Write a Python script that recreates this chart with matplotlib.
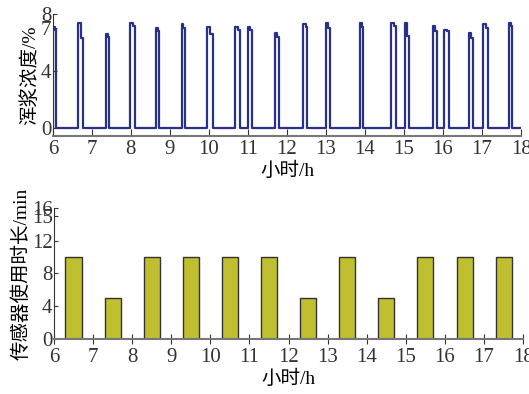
import matplotlib.pyplot as plt
import numpy as np

plt.rcParams["font.family"] = ["Liberation Serif", "Noto Sans CJK SC"]

# concentration pulses (hours, %)
pulse_start = [6.00, 6.64, 7.35, 7.97, 8.65, 9.30, 9.95, 10.67, 11.00, 11.70,
               12.42, 13.00, 13.86, 14.66, 15.02, 15.74, 16.03, 16.67, 17.03, 17.68]
pulse_end = [6.08, 6.77, 7.45, 8.10, 8.73, 9.38, 10.10, 10.80, 11.10, 11.80,
             12.52, 13.10, 13.96, 14.79, 15.12, 15.85, 16.15, 16.77, 17.16, 17.78]
pulse_peak = [7.1, 7.4, 6.6, 7.4, 7.0, 7.3, 7.1, 7.1, 7.1, 6.7,
              7.3, 7.4, 7.4, 7.4, 7.4, 7.2, 6.9, 6.7, 7.3, 7.4]
pulse_tail = [6.9, 6.3, 6.4, 7.2, 6.8, 7.0, 6.6, 6.9, 6.9, 6.4,
              7.1, 7.0, 7.1, 7.2, 6.5, 6.8, 6.8, 6.3, 7.0, 7.2]

# sensor usage per hour (min)
bar_hours = [6.5, 7.5, 8.5, 9.5, 10.5, 11.5, 12.5, 13.5, 14.5, 15.5, 16.5, 17.5]
bar_minutes = [10, 5, 10, 10, 10, 10, 5, 10, 5, 10, 10, 10]

hour_ticks = list(range(6, 19))
conc_ticks = [0, 4, 7, 8]
usage_ticks = [0, 4, 8, 12, 15, 16]


def pulse_path(starts, ends, peaks, tails):
    xs, ys = [starts[0]], [0.0]
    for s, e, p, t in zip(starts, ends, peaks, tails):
        mid = s + (e - s) * 0.55
        xs += [s, s, mid, mid, e, e]
        ys += [0.0, p, p, t, t, 0.0]
    xs.append(18.0)
    ys.append(0.0)
    return np.array(xs), np.array(ys)


fig = plt.figure(figsize=(5.29, 3.94), dpi=100)

ax1 = fig.add_axes([0.100, 0.655, 0.885, 0.309])
x, y = pulse_path(pulse_start, pulse_end, pulse_peak, pulse_tail)
ax1.plot(x, y, color="#283189", lw=1.6)
ax1.set_xlim(6, 18)
ax1.set_ylim(-0.55, 8)
ax1.set_xticks(hour_ticks)
ax1.set_yticks(conc_ticks)
ax1.set_xlabel("小时/h", fontsize=14, labelpad=2)
ax1.set_ylabel("浑浆浓度/%", fontsize=14, labelpad=1)

ax2 = fig.add_axes([0.102, 0.140, 0.887, 0.332])
ax2.bar(bar_hours, bar_minutes, width=0.41, color="#BFBF30",
        edgecolor="#333333", linewidth=1.0, zorder=2)
ax2.set_xlim(6, 18)
ax2.set_ylim(0, 16)
ax2.set_xticks(hour_ticks)
ax2.set_yticks(usage_ticks)
ax2.set_xlabel("小时/h", fontsize=14, labelpad=2)
ax2.set_ylabel("传感器使用时长/min", fontsize=14, labelpad=1)

for ax in (ax1, ax2):
    ax.spines["top"].set_visible(False)
    ax.spines["right"].set_visible(False)
    ax.spines["left"].set_color("#333333")
    ax.spines["bottom"].set_color("#777777")
    ax.spines["bottom"].set_linewidth(1.5)
    ax.tick_params(axis="both", direction="in", labelsize=15, colors="#333333")
    ax.tick_params(axis="x", length=5, pad=3)
    ax.tick_params(axis="y", length=3, pad=1)
ax2.tick_params(axis="x", direction="inout", length=7)

fig.savefig("out.png", dpi=100)
